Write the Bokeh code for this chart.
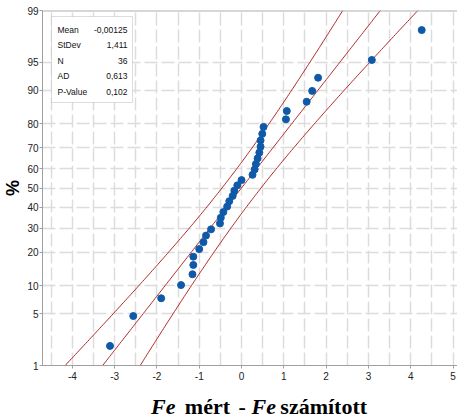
from statistics import NormalDist
import math
import numpy as np
from bokeh.plotting import figure
from bokeh.layouts import column
from bokeh.models import FixedTicker, Label, BoxAnnotation, Span, ColumnDataSource
from bokeh.core.properties import value
from bokeh.embed import file_html
from bokeh.resources import INLINE

# ---- data ----
residuals = [-3.11, -2.56, -1.90, -1.43, -1.16, -1.14, -1.14, -1.00, -0.90, -0.84,
             -0.72, -0.51, -0.49, -0.43, -0.34, -0.29, -0.21, -0.17, -0.10, 0.00,
             0.26, 0.31, 0.34, 0.38, 0.42, 0.45, 0.45, 0.49, 0.52, 1.05,
             1.07, 1.54, 1.67, 1.81, 3.08, 4.26]
percents = [1.923, 4.670, 7.418, 10.165, 12.912, 15.659, 18.407, 21.154, 23.901, 26.648,
            29.396, 32.143, 34.890, 37.637, 40.385, 43.132, 45.879, 48.626, 51.374, 54.121,
            56.868, 59.615, 62.363, 65.110, 67.857, 70.604, 73.352, 76.099, 78.846, 81.593,
            84.341, 87.088, 89.835, 92.582, 95.330, 98.077]
stat_names = ["Mean", "StDev", "N", "AD", "P-Value"]
stat_texts = ["-0,00125", "1,411", "36", "0,613", "0,102"]
mean_val = -0.00125
sd_val = 1.411
n_val = 36
y_tick_pcts = [1, 5, 10, 20, 30, 40, 50, 60, 70, 80, 90, 95, 99]
x_tick_vals = [-4, -3, -2, -1, 0, 1, 2, 3, 4, 5]
x_grid_vals = [-4.5, -4, -3.5, -3, -2.5, -2, -1.5, -1, -0.5, 0, 0.5, 1, 1.5, 2, 2.5, 3, 3.5, 4, 4.5, 5]
xlabel_italic = ["Fe", "Fe"]
xlabel_upright = ["mért", "-", "számított"]

nd = NormalDist()
def z_of(p):
    return nd.inv_cdf(p / 100.0)

y_vals = [z_of(p) for p in percents]
y_ticks = [z_of(p) for p in y_tick_pcts]

# fitted line and 95% confidence bands
zz = np.linspace(-2.8, 2.8, 200)
x_fit = mean_val + zz * sd_val
half = 1.96 * sd_val / math.sqrt(n_val) * np.sqrt(1 + zz ** 2 / 2)

W = 457
H1 = 383
LEFT = 40
p = figure(width=W, height=H1, output_backend="svg", toolbar_location=None,
           x_range=(-4.706, 5.106), y_range=(z_of(1), z_of(99)),
           min_border_left=LEFT, min_border_right=0, min_border_top=10, min_border_bottom=18)
p.outline_line_color = None
p.background_fill_color = "white"

p.xgrid.ticker = FixedTicker(ticks=x_grid_vals)
p.ygrid.ticker = FixedTicker(ticks=y_ticks)
for g in (p.xgrid, p.ygrid):
    g.grid_line_color = "#dcdcdc"
    g.grid_line_width = 1.5
    g.grid_line_dash = "13 4"

p.xaxis.ticker = FixedTicker(ticks=x_tick_vals)
p.xaxis.major_label_overrides = {v: str(v) for v in x_tick_vals}
p.yaxis.ticker = FixedTicker(ticks=y_ticks)
p.yaxis.major_label_overrides = {z: str(pc) for z, pc in zip(y_ticks, y_tick_pcts)}
for ax in (p.xaxis, p.yaxis):
    ax.axis_line_color = "#a0a0a0"
    ax.major_tick_line_color = "#a0a0a0"
    ax.major_tick_in = 0
    ax.major_tick_out = 3
    ax.minor_tick_line_color = None
    ax.major_label_text_font = "Liberation Sans"
    ax.major_label_text_font_size = "10px"
    ax.major_label_text_color = "#222222"
p.yaxis.major_label_standoff = 1
p.xaxis.major_label_standoff = 3
p.yaxis.axis_label = "%"
p.yaxis.axis_label_text_font = "Liberation Sans"
p.yaxis.axis_label_text_font_style = "bold"
p.yaxis.axis_label_text_font_size = "18px"
p.yaxis.axis_label_text_color = "black"
p.yaxis.axis_label_standoff = 1

p.add_layout(Span(location=z_of(99), dimension="width", line_color="#b0b0b0", line_width=2))

line_col = "#b02a2a"
p.line(x_fit, zz, line_color=line_col, line_width=1)
p.line(x_fit - half, zz, line_color=line_col, line_width=1)
p.line(x_fit + half, zz, line_color=line_col, line_width=1)

src = ColumnDataSource(dict(x=residuals, y=y_vals))
p.scatter("x", "y", source=src, size=7, fill_color="#0f5aa8", line_color="#0f5aa8")

# stats box (screen units, relative to frame bottom-left)
p.add_layout(BoxAnnotation(left=9, right=90, bottom=263, top=349,
                           left_units="screen", right_units="screen",
                           top_units="screen", bottom_units="screen",
                           fill_color="white", fill_alpha=1.0,
                           line_color="#909090", line_width=1, level="annotation"))
row_y = [336, 321, 305, 290, 274]
for nm, tx, yy in zip(stat_names, stat_texts, row_y):
    p.add_layout(Label(x=15, y=yy, x_units="screen", y_units="screen", text=nm,
                       text_font="Liberation Sans", text_font_size="8.5px",
                       text_baseline="middle", text_align="left", text_color="#111111"))
    p.add_layout(Label(x=85, y=yy, x_units="screen", y_units="screen", text=tx,
                       text_font="Liberation Sans", text_font_size="8.5px",
                       text_baseline="middle", text_align="right", text_color="#111111"))

# x-axis title (mixed italic / upright) drawn in a strip below the chart;
# its frame is aligned with the main frame, so x is in page pixels from LEFT on
H2 = 416 - H1
p2 = figure(width=W, height=H2, output_backend="svg", toolbar_location=None,
            x_range=(LEFT, W), y_range=(0, H2), x_axis_type=None, y_axis_type=None,
            min_border_left=LEFT, min_border_right=0, min_border_top=0, min_border_bottom=0)
p2.outline_line_color = None
p2.grid.visible = False
base = 10
p2.text(x=[149, 250], y=[base, base], text=xlabel_italic,
        text_font=value("Liberation Serif"), text_font_size="22px",
        text_font_style="bold italic", text_align="left", text_baseline="alphabetic",
        text_color="black")
p2.text(x=[183, 237, 279], y=[base, base, base], text=xlabel_upright,
        text_font=value("Liberation Serif"), text_font_size="22px",
        text_font_style="bold", text_align="left", text_baseline="alphabetic",
        text_color="black")

open("out.html", "w").write(file_html(column(p, p2, spacing=0), INLINE))
